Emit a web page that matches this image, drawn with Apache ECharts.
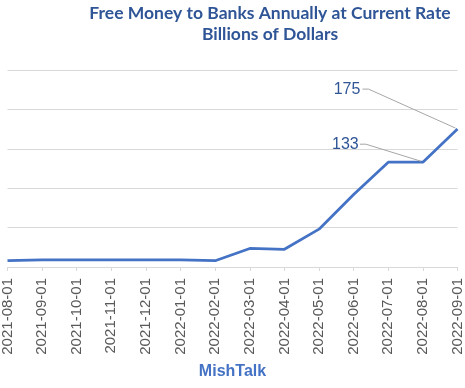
<!DOCTYPE html>
<html>
<head>
<meta charset="utf-8">
<script src="https://cdn.jsdelivr.net/npm/echarts@6/dist/echarts.min.js"></script>
<style>html,body{margin:0;padding:0;background:#fff}#c{width:465px;height:388px}</style>
</head>
<body>
<div id="c"></div>
<script>
var categories = ["2021-08-01","2021-09-01","2021-10-01","2021-11-01","2021-12-01","2022-01-01","2022-02-01","2022-03-01","2022-04-01","2022-05-01","2022-06-01","2022-07-01","2022-08-01","2022-09-01"];
var values = [8, 9, 9, 9, 9, 9, 8, 23.5, 22.5, 48, 92, 133, 133, 175];
var labeledIndex = [12, 13];
// label offsets relative to the data point: [text dx, text dy, leader start dx]
var labelOffsets = {12: [-77.5, -18, -63], 13: [-110.5, -40, -95]};
var yTicks = [0, 50, 100, 150, 200, 250];

var chart = echarts.init(document.getElementById('c'));
var calloutData = labeledIndex.map(function (i) { return [i, values[i]]; });

chart.setOption({
  animation: false,
  title: {
    text: 'Free Money to Banks Annually at Current Rate\nBillions of Dollars',
    left: 265, top: -2, textAlign: 'center',
    textStyle: {fontFamily: 'Lato', fontWeight: 'bold', fontSize: 17.5, color: '#2F5597', lineHeight: 21}
  },
  grid: {left: 3, right: 4, top: 70, bottom: 121},
  xAxis: {
    type: 'category', data: categories, boundaryGap: false,
    name: 'MishTalk', nameLocation: 'middle', nameGap: 97,
    nameTextStyle: {fontFamily: 'Liberation Sans', fontWeight: 'bold', fontSize: 16, color: '#4472C4'},
    axisLine: {lineStyle: {color: '#D9D9D9'}},
    axisTick: {show: true, length: 4, lineStyle: {color: '#D9D9D9'}},
    axisLabel: {rotate: 90, interval: 0, margin: 11, fontFamily: 'Liberation Sans', fontSize: 15, color: '#595959'}
  },
  yAxis: {
    type: 'value', min: yTicks[0], max: yTicks[yTicks.length - 1], interval: 50,
    axisLabel: {show: false}, axisLine: {show: false}, axisTick: {show: false},
    splitLine: {lineStyle: {color: '#D9D9D9'}}
  },
  series: [{
    type: 'line', data: values, symbol: 'none',
    lineStyle: {color: '#4472C4', width: 2.75}
  }, {
    type: 'custom', data: calloutData, z: 5, silent: true,
    renderItem: function (params, api) {
      var idx = api.value(0);
      var v = api.value(1);
      var p = api.coord([idx, v]);
      var o = labelOffsets[idx];
      return {
        type: 'group',
        children: [{
          type: 'polyline',
          shape: {points: [[p[0] + o[2], p[1] + o[1]], [p[0] + o[2] + 6, p[1] + o[1]], [p[0] - 2, p[1] - 1]]},
          style: {stroke: '#A6A6A6', lineWidth: 1, fill: null}
        }, {
          type: 'text',
          x: p[0] + o[0], y: p[1] + o[1],
          style: {text: String(v), fontFamily: 'Liberation Sans', fontSize: 16, fill: '#2F5597', align: 'center', verticalAlign: 'middle'}
        }]
      };
    }
  }]
});
</script>
</body>
</html>
